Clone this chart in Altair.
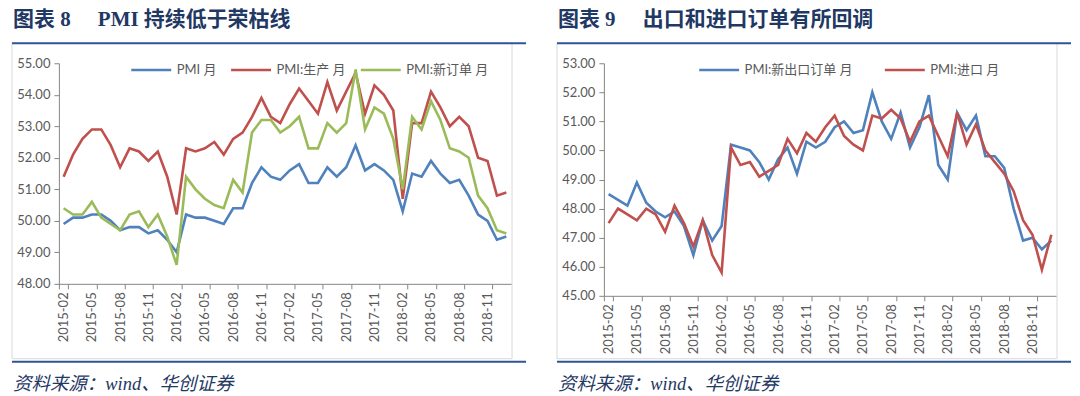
import altair as alt
import pandas as pd

months = [
    "2015-02", "2015-03", "2015-04", "2015-05", "2015-06", "2015-07", "2015-08", "2015-09", "2015-10", "2015-11", "2015-12",
    "2016-01", "2016-02", "2016-03", "2016-04", "2016-05", "2016-06", "2016-07", "2016-08", "2016-09", "2016-10", "2016-11", "2016-12",
    "2017-01", "2017-02", "2017-03", "2017-04", "2017-05", "2017-06", "2017-07", "2017-08", "2017-09", "2017-10", "2017-11", "2017-12",
    "2018-01", "2018-02", "2018-03", "2018-04", "2018-05", "2018-06", "2018-07", "2018-08", "2018-09", "2018-10", "2018-11", "2018-12",
    "2019-01",
]
tick_labels = [
    "2015-02", "2015-05", "2015-08", "2015-11", "2016-02", "2016-05", "2016-08", "2016-11",
    "2017-02", "2017-05", "2017-08", "2017-11", "2018-02", "2018-05", "2018-08", "2018-11",
]

pmi = [49.9, 50.1, 50.1, 50.2, 50.2, 50.0, 49.7, 49.8, 49.8, 49.6, 49.7,
       49.4, 49.0, 50.2, 50.1, 50.1, 50.0, 49.9, 50.4, 50.4, 51.2, 51.7, 51.4,
       51.3, 51.6, 51.8, 51.2, 51.2, 51.7, 51.4, 51.7, 52.4, 51.6, 51.8, 51.6,
       51.3, 50.3, 51.5, 51.4, 51.9, 51.5, 51.2, 51.3, 50.8, 50.2, 50.0, 49.4,
       49.5]
pmi_prod = [51.4, 52.1, 52.6, 52.9, 52.9, 52.4, 51.7, 52.3, 52.2, 51.9, 52.2,
            51.4, 50.2, 52.3, 52.2, 52.3, 52.5, 52.1, 52.6, 52.8, 53.3, 53.9, 53.3,
            53.1, 53.7, 54.2, 53.8, 53.4, 54.4, 53.5, 54.1, 54.7, 53.4, 54.3, 54.0,
            53.5, 50.7, 53.1, 53.1, 54.1, 53.6, 53.0, 53.3, 53.0, 52.0, 51.9, 50.8,
            50.9]
pmi_new = [50.4, 50.2, 50.2, 50.6, 50.1, 49.9, 49.7, 50.2, 50.3, 49.8, 50.2,
           49.5, 48.6, 51.4, 51.0, 50.7, 50.5, 50.4, 51.3, 50.9, 52.8, 53.2, 53.2,
           52.8, 53.0, 53.3, 52.3, 52.3, 53.1, 52.8, 53.1, 54.8, 52.9, 53.6, 53.4,
           52.6, 51.0, 53.3, 52.9, 53.8, 53.2, 52.3, 52.2, 52.0, 50.8, 50.4, 49.7,
           49.6]
pmi_export = [48.5, 48.3, 48.1, 48.9, 48.2, 47.9, 47.7, 47.9, 47.4, 46.4, 47.6,
              46.9, 47.4, 50.2, 50.1, 50.0, 49.6, 49.0, 49.7, 50.1, 49.2, 50.3, 50.1,
              50.3, 50.8, 51.0, 50.6, 50.7, 52.0, 51.0, 50.4, 51.3, 50.1, 50.8, 51.9,
              49.5, 49.0, 51.3, 50.7, 51.2, 49.8, 49.8, 49.4, 48.0, 46.9, 47.0, 46.6,
              46.9]
pmi_import = [47.5, 48.0, 47.8, 47.6, 48.0, 47.8, 47.2, 48.1, 47.5, 46.7, 47.6,
              46.4, 45.8, 50.1, 49.5, 49.6, 49.1, 49.3, 49.5, 50.4, 49.9, 50.6, 50.3,
              50.8, 51.2, 50.5, 50.2, 50.0, 51.2, 51.1, 51.4, 51.1, 50.3, 51.0, 51.2,
              50.5, 49.8, 51.3, 50.2, 50.9, 50.0, 49.6, 49.2, 48.6, 47.6, 47.1, 45.9,
              47.1]

left_names = ["PMI 月", "PMI:生产 月", "PMI:新订单 月"]
left_colors = ["#4F81BD", "#C0504D", "#9BBB59"]
right_names = ["PMI:新出口订单 月", "PMI:进口 月"]
right_colors = ["#4F81BD", "#C0504D"]

FONT = "Lato, Noto Sans CJK SC, sans-serif"
TFONT = "Liberation Serif, Noto Sans CJK SC, serif"
NAVY = "#1F3864"
BLUE_LINE = "#2F5597"
W = 453


def long_df(names, series):
    rows = []
    for n, s in zip(names, series):
        for m, v in zip(months, s):
            rows.append({"month": m, "series": n, "value": v})
    return pd.DataFrame(rows)


def panel(df, names, colors, ydom, H, leg_x, leg_pad, num, text):
    one = pd.DataFrame({"k": [0]})
    box = alt.Chart(one).mark_rect(fillOpacity=0, stroke="#D9D9D9", strokeWidth=1).encode(
        x=alt.value(-47), x2=alt.value(454), y=alt.value(-20), y2=alt.value(296))
    lines = alt.Chart(df).mark_line(strokeWidth=2.6).encode(
        x=alt.X("month:O", sort=months, bandPosition=0.5,
                scale=alt.Scale(type="band", paddingInner=0, paddingOuter=0),
                axis=alt.Axis(values=tick_labels, title=None, labelAngle=270, tickBand="extent",
                              labelPadding=3, tickSize=5, zindex=1)),
        y=alt.Y("value:Q", scale=alt.Scale(domain=ydom, nice=False, zero=False),
                axis=alt.Axis(values=list(range(ydom[0], ydom[1] + 1)), format=".2f", title=None,
                              labelPadding=4, tickSize=5, zindex=1)),
        color=alt.Color("series:N", sort=names, scale=alt.Scale(domain=names, range=colors),
                        legend=alt.Legend(orient="none", legendX=leg_x, legendY=-15, direction="horizontal",
                                          title=None, symbolType="stroke", symbolSize=1600,
                                          symbolStrokeWidth=2.6, labelFont=FONT, labelFontSize=13,
                                          labelColor="#595959", columnPadding=leg_pad, labelOffset=4)),
    )
    ul = alt.Chart(one).mark_rule(color=BLUE_LINE, strokeWidth=2).encode(
        x=alt.value(-47), x2=alt.value(468), y=alt.value(-20))
    bl = alt.Chart(one).mark_rule(color=BLUE_LINE, strokeWidth=2).encode(
        x=alt.value(-47), x2=alt.value(468), y=alt.value(299))
    t1 = alt.Chart(one).mark_text(text=f"图表 {num}", font=TFONT, fontSize=21, fontWeight="bold",
                                  color=NAVY, align="left", baseline="middle").encode(
        x=alt.value(-46), y=alt.value(-43.5))
    t2 = alt.Chart(one).mark_text(text=text, font=TFONT, fontSize=21, fontWeight="bold",
                                  color=NAVY, align="left", baseline="middle").encode(
        x=alt.value(39), y=alt.value(-43.5))
    src = alt.Chart(one).mark_text(text="资料来源：wind、华创证券", font=TFONT, fontSize=18.5,
                                   fontStyle="italic", color=NAVY, align="left", baseline="middle").encode(
        x=alt.value(-46), y=alt.value(321))
    return alt.layer(box, lines, ul, bl, t1, t2, src).properties(width=W, height=H)


left = panel(long_df(left_names, [pmi, pmi_prod, pmi_new]), left_names, left_colors,
             [48, 55], 221, 71, 9, 8, "PMI 持续低于荣枯线")
right = panel(long_df(right_names, [pmi_export, pmi_import]), right_names, right_colors,
              [45, 53], 233, 94, 26, 9, "出口和进口订单有所回调")

chart = (
    alt.hconcat(left, right, spacing=29)
    .resolve_scale(color="independent", x="independent", y="independent")
    .resolve_legend(color="independent")
    .properties(padding={"left": 3, "top": 0, "right": 0, "bottom": 0})
    .configure_view(stroke=None)
    .configure_axis(grid=False, labelFont=FONT, labelFontSize=13, labelColor="#595959",
                    domainColor="#868686", tickColor="#868686", domainWidth=1, tickWidth=1)
)

chart.save("out.html", embed_options={"renderer": "svg", "actions": False})
